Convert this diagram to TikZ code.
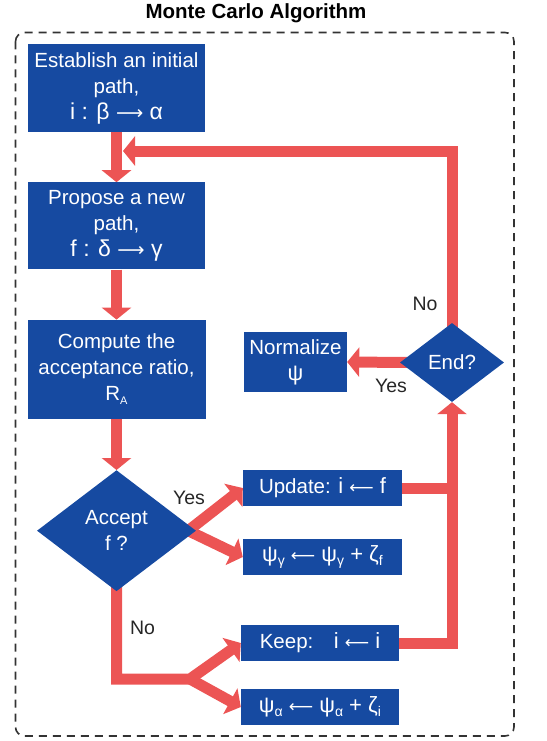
\documentclass[tikz,border=0pt]{standalone}
\usepackage{fontspec}
\setmainfont{Liberation Sans}
\newfontfamily\arrowfont{DejaVu Sans}
\usetikzlibrary{positioning,shapes.geometric,arrows.meta,backgrounds}
\definecolor{boxblue}{RGB}{22,74,161}
\definecolor{flowred}{RGB}{236,84,84}
\newcommand{\lowsub}[2][14]{\raisebox{-4pt}{\fontsize{#1}{#1}\selectfont #2}}
\newcommand{\rarr}{{\arrowfont\fontsize{19}{19}\selectfont ⟶}}
\newcommand{\larr}{{\arrowfont\fontsize{17}{17}\selectfont ⟵}}

\begin{document}
\begin{tikzpicture}[x=1pt,y=-1pt,line join=miter,
    box/.style={rectangle,fill=boxblue,text=white,inner sep=0pt,align=center,font=\fontsize{20.5}{26}\selectfont},
    decision/.style={diamond,fill=boxblue,text=white,inner sep=0pt,align=center,font=\fontsize{20.5}{26}\selectfont},
    flow/.style={draw=flowred,line width=11pt,-{Triangle[width=29pt,length=12pt]}},
    flowline/.style={draw=flowred,line width=11pt},
    note/.style={text=black!85,inner sep=0pt,font=\fontsize{19.5}{22}\selectfont},
    dashframe/.style={draw=black!80,line width=1.6pt,dash pattern=on 8pt off 6pt,rounded corners=9pt}]

                \useasboundingbox (0,0) rectangle (546,741);
                \node[font=\bfseries\fontsize{20.5}{24}\selectfont] (title) at (256,13) {Monte Carlo Algorithm};
                \draw[dashframe] (15.5,32.5) rectangle (514,736);

                \node[box, minimum width=177pt, minimum height=88pt] (est) at (116.5,88) {Establish an initial\\path,\\{\fontsize{23}{29}\selectfont i : β \rarr{} α}};
                \node[box, minimum width=177pt, minimum height=87pt] (prop) [below=50pt of est] {Propose a new\\path,\\{\fontsize{23}{29}\selectfont f : δ \rarr{} γ}};
                \node[box, minimum width=178pt, minimum height=99pt] (comp) [below=50pt of prop] {Compute the\\acceptance ratio,\\R\lowsub[11]{A}};
                \node[decision, minimum width=159pt, minimum height=121pt] (acc) [below=51pt of comp] {Accept\\f ?};

                \node[box, minimum width=159pt, minimum height=36pt] (upd) at (322.5,488) {Update: {\fontsize{22}{26}\selectfont i \larr{} f}};
                \node[box, minimum width=159pt, minimum height=36pt] (psig) at (322.5,557) {\fontsize{22}{26}\selectfont ψ\lowsub{γ} \larr{} ψ\lowsub{γ} + ζ\lowsub{f}};
                \node[box, minimum width=158pt, minimum height=36pt] (keep) at (320,643) {Keep:\quad {\fontsize{22}{26}\selectfont i \larr{} i}};
                \node[box, minimum width=158pt, minimum height=36pt] (psia) at (320,707) {\fontsize{22}{26}\selectfont ψ\lowsub{α} \larr{} ψ\lowsub{α} + ζ\lowsub{i}};

                \node[box, minimum width=103pt, minimum height=60pt] (norm) at (295.5,362) {Normalize\\{\fontsize{22}{26}\selectfont ψ}};
                \node[decision, minimum width=104pt, minimum height=79pt] (end) at (452,362.5) {End?};

                \node[note] (yesacc) at (189,498) {Yes};
                \node[note] (noacc) at (142.5,627.5) {No};
                \node[note] (noend) at (425,304) {No};
                \node[note] (yesend) at (391,386) {Yes};

                \coordinate (join) at (123,151);
                \coordinate (split) at (190,679);

                \begin{scope}[on background layer]
                \draw[flow] (est) to (prop);
                \draw[flow] (prop) to (comp);
                \draw[flow] (comp) to (acc);
                \draw[flow] ([xshift=-8pt]acc.east) to (upd.west);
                \draw[flow] ([xshift=-8pt]acc.east) to (psig.west);
                \draw[flow] ([yshift=6pt]acc.south) |- (split) -- (keep.west);
                \draw[flow] (split) to (psia.west);
                \draw[flowline] (upd.east) to (upd.east -| end.south);
                \draw[flow] (keep.east) -| (end.south);
                \draw[flow] ([xshift=8pt]end.west) to (norm.east);
                \draw[flow] ([yshift=-6pt]end.north) |- (join);
                \end{scope}
            \end{tikzpicture}
\end{document}
